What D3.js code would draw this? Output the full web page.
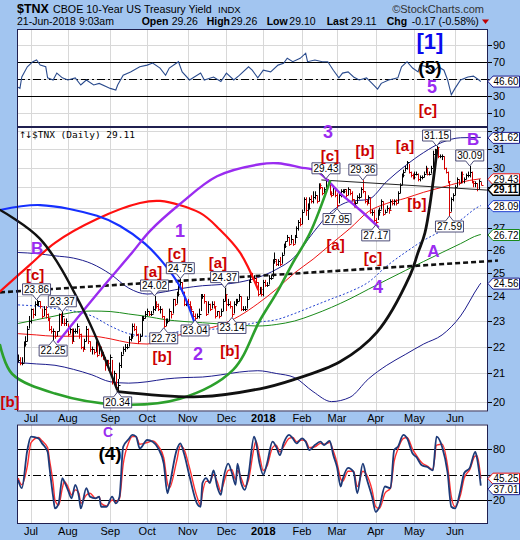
<!DOCTYPE html>
<html><head><meta charset="utf-8"><title>$TNX</title>
<script src="https://cdn.jsdelivr.net/npm/d3@7/dist/d3.min.js"></script>
<style>html,body{margin:0;padding:0;background:#a2c5f0;}svg{display:block;}</style>
</head><body>
<svg id="chart" width="520" height="540" xmlns="http://www.w3.org/2000/svg"></svg>
<script>
// ================= DATA =================
const holidays = ["2017-07-04","2017-09-04","2017-11-23","2017-12-25","2018-01-01","2018-01-15","2018-02-19","2018-03-30","2018-05-28"];
const firstDay = "2017-06-22", lastDay = "2018-06-21";

// daily closes (x10 yield), Jun 22 2017 .. Jun 21 2018
const closes = [
21.5,21.4,21.4,22.1,22.2,22.7,23.0,
23.5,23.3,23.7,23.8,23.8,23.6,23.2,23.5,23.3,23.1,22.7,22.6,22.6,22.4,22.6,23.3,22.9,23.2,22.9,23.0,
22.5,22.7,22.2,22.6,22.6,22.8,22.5,22.0,21.9,22.2,22.7,22.2,21.9,21.9,21.8,22.2,21.7,21.9,21.7,21.6,21.3,21.4,21.2,
21.6,20.7,21.0,20.5,20.6,21.3,21.7,21.9,22.0,22.0,22.3,22.4,22.8,22.7,22.5,22.2,22.4,23.1,23.1,23.3,
23.4,23.3,23.3,23.5,23.7,23.6,23.5,23.5,23.2,22.8,23.0,23.0,23.4,23.3,23.9,23.7,24.1,24.4,24.6,24.2,23.7,23.8,
23.7,23.5,23.4,23.2,23.1,23.2,23.3,24.0,24.0,23.8,23.3,23.7,23.5,23.7,23.6,23.2,23.4,23.2,23.4,23.8,24.1,
23.7,23.7,23.6,23.3,23.7,23.8,23.8,24.0,23.5,23.5,23.5,23.9,24.6,24.9,24.8,24.8,24.6,24.1,24.3,24.1,
24.6,24.5,24.5,24.8,24.8,25.5,25.6,25.4,25.5,25.4,25.8,26.2,26.4,26.6,26.3,26.5,26.3,26.6,27.0,27.3,27.2,
27.8,28.4,27.9,28.0,28.4,28.3,28.5,28.6,28.3,29.1,29.0,28.7,28.9,29.4,29.2,28.7,28.6,29.0,28.6,
28.1,28.6,28.8,28.8,28.9,28.6,28.9,28.7,28.4,28.1,28.2,28.5,28.5,28.9,28.8,28.3,28.2,28.5,27.8,27.8,27.4,
27.3,27.8,27.9,28.3,27.7,27.8,28.0,27.9,28.3,28.2,28.3,28.2,28.7,29.1,29.6,29.8,30.0,30.3,29.8,29.6,29.5,
29.7,29.7,29.4,29.5,29.5,29.7,30.0,29.7,29.7,30.0,30.7,30.9,31.1,30.6,30.6,30.6,30.0,29.8,29.3,27.8,28.4,28.6,
29.0,29.4,29.2,29.7,29.3,29.4,29.6,29.6,29.8,29.3,29.2,29.2,28.9,29.3,29.11];
const highs = [
21.7,21.6,21.6,22.2,22.4,22.8,23.2,
23.5,23.5,23.8,23.86,23.8,23.8,23.5,23.6,23.6,23.3,23.1,22.8,22.7,22.6,22.6,23.3,23.3,23.37,23.1,23.1,
22.9,22.8,22.7,22.7,22.7,22.9,22.7,22.5,22.0,22.3,22.8,22.7,22.2,22.0,21.9,22.2,22.2,22.0,22.0,21.8,21.6,21.5,21.5,
21.7,21.5,21.1,21.0,20.8,21.4,21.8,22.0,22.1,22.1,22.4,22.5,22.9,22.9,22.8,22.5,22.5,23.2,23.2,23.4,
23.5,23.4,23.4,23.6,24.02,23.8,23.7,23.6,23.5,23.2,23.1,23.1,23.5,23.4,23.9,23.9,24.2,24.5,24.75,24.6,24.2,23.9,
23.9,23.8,23.6,23.4,23.3,23.3,23.5,24.1,24.1,24.1,23.8,23.8,23.7,23.8,23.8,23.6,23.4,23.4,23.5,23.9,24.37,
24.1,23.9,23.8,23.6,23.8,23.9,23.9,24.1,24.0,23.6,23.6,24.0,24.7,25.0,25.0,24.9,24.8,24.6,24.4,24.4,
24.7,24.7,24.6,24.9,24.9,25.6,25.9,25.6,25.6,25.7,25.9,26.3,26.4,26.7,26.6,26.7,26.5,26.7,27.1,27.4,27.5,
27.9,28.5,28.5,28.2,28.5,28.6,28.8,28.8,28.6,29.2,29.2,29.0,29.0,29.43,29.4,29.2,28.8,29.1,29.0,
28.7,28.7,28.9,28.9,28.9,28.9,29.0,28.9,28.8,28.4,28.3,28.6,28.7,29.0,29.36,28.8,28.4,28.6,28.5,27.9,27.9,
27.5,27.9,28.0,28.4,28.3,27.9,28.1,28.0,28.4,28.4,28.4,28.4,28.8,29.2,29.7,29.9,30.1,30.35,30.2,29.8,29.7,
29.8,29.8,29.7,29.6,29.6,29.8,30.1,30.0,29.8,30.1,30.9,31.0,31.15,31.1,30.7,30.7,30.6,30.0,29.8,29.3,28.5,28.7,
29.1,29.5,29.4,29.8,29.8,29.5,29.7,29.8,30.09,29.8,29.3,29.3,29.2,29.4,29.26];
const lows = [
21.4,21.3,21.3,21.4,22.0,22.2,22.7,
22.9,23.1,23.2,23.6,23.6,23.5,23.1,23.2,23.1,23.0,22.6,22.5,22.25,22.3,22.4,22.6,22.8,22.9,22.8,22.8,
22.4,22.5,22.1,22.2,22.5,22.5,22.3,21.9,21.8,21.9,22.2,22.1,21.8,21.7,21.7,21.8,21.6,21.7,21.6,21.5,21.1,21.3,21.1,
21.1,20.6,20.6,20.4,20.34,20.8,21.2,21.7,21.8,21.9,22.0,22.2,22.3,22.6,22.4,22.1,22.2,22.4,23.0,23.1,
23.2,23.2,23.2,23.3,23.4,23.5,23.4,23.3,23.1,22.73,22.8,22.9,23.0,23.1,23.3,23.6,23.7,24.0,24.3,24.1,23.6,23.6,
23.6,23.4,23.3,23.1,23.04,23.1,23.1,23.4,23.9,23.7,23.2,23.3,23.4,23.5,23.5,23.1,23.2,23.1,23.2,23.4,23.8,
23.4,23.6,23.5,23.14,23.3,23.6,23.7,23.8,23.4,23.4,23.4,23.5,23.9,24.6,24.7,24.7,24.5,24.0,24.1,24.0,
24.0,24.4,24.4,24.5,24.7,24.8,25.4,25.3,25.3,25.3,25.4,25.8,26.1,26.4,26.2,26.3,26.2,26.3,26.6,26.9,27.1,
27.2,27.8,27.6,27.4,27.9,28.2,28.2,28.4,28.2,28.3,28.9,28.6,28.7,28.8,29.0,28.6,28.5,28.6,28.5,
27.95,28.2,28.5,28.7,28.7,28.5,28.6,28.6,28.3,28.0,28.0,28.2,28.4,28.5,28.7,28.2,28.1,28.2,27.7,27.6,27.3,
27.17,27.4,27.6,27.9,27.6,27.7,27.8,27.7,27.9,28.1,28.1,28.1,28.2,28.7,29.1,29.5,29.8,29.9,29.7,29.5,29.4,
29.4,29.6,29.3,29.3,29.4,29.5,29.7,29.6,29.6,29.7,30.0,30.6,30.8,30.5,30.5,30.4,29.9,29.7,29.2,27.59,27.8,28.3,
28.6,29.0,29.1,29.2,29.2,29.2,29.4,29.5,29.5,29.2,29.0,29.0,28.8,28.9,29.10];

// overlay lines, read at these trading-day numbers
const sampleDays = [0,10,20,30,40,50,60,70,80,90,100,110,120,130,140,150,160,170,180,190,200,210,220,230,240,250,251];
const ma50   = [22.5,22.45,22.4,22.4,22.4,22.3,22.15,22.1,22.3,22.5,22.65,22.85,23.2,23.7,24.3,25.0,25.6,26.3,27.0,27.8,28.2,28.45,28.75,29.0,29.25,29.42,29.43];
const ma200  = [22.9,23.05,23.2,23.35,23.4,23.38,23.28,23.18,23.05,22.98,22.93,22.88,22.84,22.8,22.86,23.0,23.25,23.55,23.9,24.3,24.7,25.1,25.5,25.9,26.3,26.7,26.72];
const bbMid  = [23.65,23.6,23.5,23.4,23.2,22.8,22.5,22.4,22.5,22.6,22.65,22.7,22.8,22.95,23.05,23.3,23.6,23.9,24.2,24.6,25.3,25.9,26.45,26.9,27.4,28.05,28.09];
const bbUp   = [25.9,25.85,25.75,25.65,25.4,24.95,24.35,24.1,24.2,24.35,24.45,24.5,24.6,24.8,25.15,25.7,26.8,27.8,28.3,28.4,29.3,30.1,30.8,31.35,31.6,31.62,31.62];
const bbLow  = [21.4,21.35,21.3,21.15,20.95,20.7,20.65,20.7,20.8,20.85,20.87,20.95,21.05,21.1,21.0,20.85,20.35,20.0,20.15,20.8,21.3,21.7,22.1,22.45,23.2,24.45,24.56];

// top RSI panel
const rsiDays = [0,1,2,5,8,10,12,15,16,19,21,24,27,31,34,37,41,44,50,53,54,57,61,66,70,73,77,80,82,87,89,93,99,101,106,110,113,117,120,125,127,130,133,137,141,144,146,149,153,156,157,161,165,168,171,174,176,179,182,185,189,192,195,197,201,206,208,211,214,217,218,222,225,228,231,233,235,237,240,244,247,250,251];
const rsiVals = [40,38.7,52,64,70,72,66,64,51,48.5,56.6,51,48.5,51,42.6,48.5,42.6,44.5,38.6,36.7,42.6,54,58,64,66,68.4,62.5,54,62.5,70,58,48.5,56.6,48.5,52,46.6,56.6,48.5,54,64,60,51,60,58,66,68,74,70,74,80,70,72,70,70,60,51,56.6,58,52,48.5,51,44.5,37.7,44.5,48.5,51,64,70,62.5,58,66,64,58,64,60,48.5,31,38.6,48.5,52,53,48.5,46.6];

// bottom panel (fast navy, slow red)
const stoDays = [0,2,5,7,11,13,16,17,19,20,22,24,25,27,29,31,33,34,37,39,42,44,45,48,51,53,55,57,60,62,64,66,70,73,76,79,81,82,86,88,90,93,97,99,100,102,104,106,108,110,111,114,116,118,119,121,123,125,128,129,131,133,135,138,140,142,144,147,149,151,154,156,158,161,164,166,169,171,173,175,176,179,182,184,187,189,192,194,196,199,202,204,206,209,211,214,216,219,222,225,227,230,233,235,237,240,242,245,248,249,251];
const stoFast = [43.7,34,79,95,93,87,77,59,24,10,16,46,42,32,22,38,24,10,34,24,22,24,12,12,24,16,24,83,92,97,95,81,91,89,81,63,28,36,79,87,75,48,16,12,40,46,40,55,36,26,40,63,52,38,63,40,32,50,95,89,63,50,63,89,83,73,87,97,93,87,93,89,79,85,89,85,90,73,59,36,44,58,53,28,63,46,24,6,12,36,34,79,83,97,93,75,71,61,59,55,95,83,52,12,10,32,52,58,77,69,37.01];
const stoSlow = [46,38,60,88,94,90,82,68,40,20,14,34,42,36,26,32,28,16,26,28,22,24,16,13,20,18,22,62,88,95,95,86,88,90,84,70,40,34,66,84,80,58,24,14,28,42,42,50,42,30,36,55,56,44,55,46,36,44,82,90,72,55,60,82,85,77,83,93,94,89,91,90,82,83,87,86,88,78,64,45,42,54,54,36,54,50,32,12,10,28,34,66,80,93,94,80,73,64,60,56,85,86,60,24,12,26,46,56,72,72,45.25];

// annotated highs/lows: [day, value, text, side]
const pivotLabels = [[10,23.86,"23.86","a"],[19,22.25,"22.25","b"],[24,23.37,"23.37","a"],[54,20.34,"20.34","b"],[74,24.02,"24.02","a"],[79,22.73,"22.73","b"],[88,24.75,"24.75","a"],[96,23.04,"23.04","b"],[112,24.37,"24.37","a"],[116,23.14,"23.14","b"],[167,29.43,"29.43","a"],[173,27.95,"27.95","b"],[187,29.36,"29.36","a"],[194,27.17,"27.17","b"],[227,31.15,"31.15","a"],[234,27.59,"27.59","b"],[245,30.09,"30.09","a"]];

// wave labels: [panel, day, value, text, kind]
const waveLabels = [
["main",10.3,26.07,"B","purpleL"],["main",9.2,24.93,"[c]","red"],["main",-4.4,20.0,"[b]","red"],
["main",73.2,25.08,"[a]","red"],["main",86.2,25.84,"[c]","red"],["main",108.4,25.47,"[a]","red"],
["main",78.1,21.61,"[b]","red"],["main",97.6,21.72,"2","purple"],["main",114.9,21.85,"[b]","red"],
["main",87.8,26.89,"1","purple"],["main",168.1,31.94,"3","purple"],["main",169.2,30.65,"[c]","red"],
["main",188.2,30.91,"[b]","red"],["main",209.9,31.18,"[a]","red"],["rsi",222.3,13.2,"[c]","red"],
["main",246.8,31.5,"B","purpleL"],["main",172.2,26.25,"[a]","red"],["main",216.3,28.22,"[b]","red"],
["main",192.5,25.67,"[c]","red"],["main",195.2,24.38,"4","purple"],["main",225.3,25.94,"A","purpleL"],
["rsi",223.4,93.2,"[1]","blue"],["rsi",223.4,62.6,"(5)","black"],["rsi",224.5,40.2,"5","purple"],
["low",48.8,100.5,"C","purpleS"],["low",49.9,75.6,"(4)","black"]];

// cycle arcs: [day, value] points
const arcBlue   = [[-9.8,27.88],[11.9,28.12],[42.8,27.6],[55.3,27.12],[68.8,26.3],[78.6,25.45],[87.8,24.42],[96,22.87]];
const arcRed    = [[-9.8,24.21],[6.5,25.36],[20,26.34],[42.8,27.45],[66.1,28.22],[77,28.32],[98.7,27.74],[109.5,26.94],[120.4,25.89],[130.2,24.29]];
const arcPurple = [[21.6,22.18],[44.4,24.25],[61.8,25.89],[71.6,26.89],[87.8,28.17],[107.9,29.56],[131.2,30.18],[141,30.23],[152.9,30.02],[162.1,29.82],[174.6,28.71],[185.5,27.88],[195.3,27.08]];
const arcGreen  = [[-9.8,22.06],[-3.3,20.99],[20,20.28],[53.7,19.9],[87.8,20.1],[116.6,21.13],[131.2,23.03],[140.4,24.17],[149.1,25.45],[158.4,26.8],[169.2,29.31]];
const arcBlackL = [[-9.8,27.88],[11.9,26.52],[35.2,23.47],[53.7,20.42]];
const arcBlackR = [[54.2,20.35],[98.7,20.17],[131.2,20.45],[149.1,20.77],[174.6,21.43],[194.7,22.56],[212.6,24.89],[216.9,25.89],[220.7,26.8],[227.2,30.91]];
const dashedTrend = [[-9.8,24.17],[260.3,25.54]];
const thinTrend   = [[164.5,29.37],[254.3,28.86]];

// right-edge value tags: [panel, value, text, kind]
const valueTags = [["rsi",46.60,"46.60","navy"],["main",31.62,"31.62","navy"],["main",29.43,"29.43","red"],["main",29.11,"29.11","black"],["main",28.09,"28.09","blue"],["main",26.72,"26.72","green"],["main",24.56,"24.56","navy"],["low",45.25,"45.25","red"],["low",37.01,"37.01","navy"]];

const mainTicks = [20,21,22,23,24,25,26,27,28,29,30,31,32];
const rsiTicks = [10,30,50,70,90];
const lowTicks = [20,50,80];

// ================= DRAW =================
const svg = d3.select("#chart");
const FONT = 'Arial, "Liberation Sans", sans-serif';
const BG = "#a2c5f0";
const L = 17, R = 488;
const panels = {rsi:[29,127], main:[127,411.5], low:[424.5,524]};

const fmt = d3.timeFormat("%Y-%m-%d");
const days = [];
for (let d = new Date(2017,5,22); d <= new Date(2018,5,21); d = new Date(d.getFullYear(), d.getMonth(), d.getDate()+1)) {
  const wd = d.getDay(); if (wd === 0 || wd === 6) continue;
  if (holidays.includes(fmt(d))) continue;
  days.push(d);
}
const monthTicks = [];
days.forEach((d,i) => { if (i > 0 && d.getMonth() !== days[i-1].getMonth()) monthTicks.push(i); });

const x  = d3.scaleLinear().domain([-0.6, 254.9]).range([L, R]);
const yM = d3.scaleLog().domain([20, 32]).range([401.6, 130.5]);
const yR = d3.scaleLinear().domain([30, 70]).range([95.7, 61.7]);
const yB = d3.scaleLinear().domain([20, 80]).range([500, 449.3]);
const yOf = {main:yM, rsi:yR, low:yB};

svg.append("rect").attr("width",520).attr("height",540).attr("fill",BG);
const defs = svg.append("defs");
for (const k in panels) {
  const [t,b] = panels[k];
  svg.append("rect").attr("x",L).attr("y",t).attr("width",R-L).attr("height",b-t).attr("fill","#fff");
  defs.append("clipPath").attr("id","clip-"+k).append("rect").attr("x",L).attr("y",t).attr("width",R-L).attr("height",b-t);
}

// grid
const grid = svg.append("g").attr("stroke","#d8d8d8").attr("stroke-width",1);
for (const k in panels) {
  const [t,b] = panels[k];
  monthTicks.forEach(i => { const xx = Math.round(x(i))+0.5;
    grid.append("line").attr("x1",xx).attr("x2",xx).attr("y1",t).attr("y2",b); });
}
const hgrid = (ticks, sc) => ticks.forEach(v => { const yy = Math.round(sc(v))+0.5;
  grid.append("line").attr("x1",L).attr("x2",R).attr("y1",yy).attr("y2",yy); });
hgrid(mainTicks, yM); hgrid(rsiTicks, yR);

// reference lines
function refLines(sc, solid, dash, panel) {
  const g = svg.append("g").attr("clip-path","url(#clip-"+panel+")");
  solid.forEach(v => { const yy = Math.round(sc(v))+0.5;
    g.append("line").attr("x1",L).attr("x2",R).attr("y1",yy).attr("y2",yy).attr("stroke","#000").attr("stroke-width",1); });
  const yy = Math.round(sc(dash))+0.5;
  g.append("line").attr("x1",L).attr("x2",R).attr("y1",yy).attr("y2",yy).attr("stroke","#000").attr("stroke-width",1).attr("stroke-dasharray","8,3,2,3");
}
refLines(yR, [30,70], 50, "rsi");
refLines(yB, [20,80], 50, "low");

// RSI line
svg.append("g").attr("clip-path","url(#clip-rsi)").append("path")
  .attr("d", d3.line().x((d,i)=>x(rsiDays[i])).y(v=>yR(v))(rsiVals))
  .attr("fill","none").attr("stroke","#2a4b8d").attr("stroke-width",1.1);

// bottom panel lines
const gLow = svg.append("g").attr("clip-path","url(#clip-low)");
gLow.append("path").attr("d", d3.line().x((d,i)=>x(stoDays[i])).y(v=>yB(v)).curve(d3.curveMonotoneX)(stoSlow))
  .attr("fill","none").attr("stroke","#ff3030").attr("stroke-width",1.4);
gLow.append("path").attr("d", d3.line().x((d,i)=>x(stoDays[i])).y(v=>yB(v)).curve(d3.curveMonotoneX)(stoFast))
  .attr("fill","none").attr("stroke","#1d3a78").attr("stroke-width",1.8);

// main overlays
const gMain = svg.append("g").attr("clip-path","url(#clip-main)");
const ov = d3.line().x((d,i)=>x(sampleDays[i])).y(v=>yM(v)).curve(d3.curveMonotoneX);
gMain.append("path").attr("d",ov(bbUp)).attr("fill","none").attr("stroke","#1c1c8c").attr("stroke-width",1);
gMain.append("path").attr("d",ov(bbLow)).attr("fill","none").attr("stroke","#1c1c8c").attr("stroke-width",1);
gMain.append("path").attr("d",ov(bbMid)).attr("fill","none").attr("stroke","#2040d0").attr("stroke-width",1).attr("stroke-dasharray","2,2");
gMain.append("path").attr("d",ov(ma200)).attr("fill","none").attr("stroke","#1a8a1a").attr("stroke-width",1);
gMain.append("path").attr("d",ov(ma50)).attr("fill","none").attr("stroke","#ee1111").attr("stroke-width",1);

// price bars
const gBars = gMain.append("g");
closes.forEach((c,i) => {
  const col = (i === 0 || c >= closes[i-1]) ? "#000" : "#d40000";
  const xx = Math.round(x(i)) + 0.5;
  gBars.append("line").attr("x1",xx).attr("x2",xx).attr("y1",yM(highs[i])).attr("y2",yM(lows[i])).attr("stroke",col).attr("stroke-width",1);
  const yc = Math.round(yM(c)) + 0.5;
  gBars.append("line").attr("x1",xx).attr("x2",xx+2).attr("y1",yc).attr("y2",yc).attr("stroke",col).attr("stroke-width",1);
});

// trend lines
const straight = d3.line().x(p=>x(p[0])).y(p=>yM(p[1]));
gMain.append("path").attr("d",straight(thinTrend)).attr("stroke","#222").attr("stroke-width",1).attr("fill","none");
svg.append("path").attr("d",straight(dashedTrend)).attr("stroke","#111").attr("stroke-width",2.6).attr("stroke-dasharray","5,3").attr("fill","none");

// arcs
const arcLine = d3.line().x(p=>x(p[0])).y(p=>yM(p[1])).curve(d3.curveCatmullRom.alpha(0.5));
const gArcs = svg.append("g").attr("fill","none").attr("stroke-linecap","round");
gArcs.append("path").attr("d",arcLine(arcRed)).attr("stroke","#ff1010").attr("stroke-width",2.2);
gArcs.append("path").attr("d",arcLine(arcBlue)).attr("stroke","#1530ff").attr("stroke-width",2.2);
gArcs.append("path").attr("d",arcLine(arcPurple)).attr("stroke","#9a2cf0").attr("stroke-width",2.4);
gArcs.append("path").attr("d",arcLine(arcGreen)).attr("stroke","#2ca02c").attr("stroke-width",2.6);
gArcs.append("path").attr("d",arcLine(arcBlackL)).attr("stroke","#111").attr("stroke-width",2.4);
gArcs.append("path").attr("d",arcLine(arcBlackR)).attr("stroke","#111").attr("stroke-width",2.8);

// pivot value boxes
const gPiv = svg.append("g");
pivotLabels.forEach(([d,v,t,side]) => {
  const bx = x(d), by = yM(v), w = 28, h = 11, gap = 5;
  const xl = bx - w/2, xr = bx + w/2;
  let yt, yb, p;
  if (side === "a") { yb = by - gap; yt = yb - h;
    p = `M${xl},${yt}H${xr}V${yb}H${bx+4}L${bx},${by}L${bx-4},${yb}H${xl}Z`; }
  else { yt = by + gap; yb = yt + h;
    p = `M${xl},${yb}H${xr}V${yt}H${bx+4}L${bx},${by}L${bx-4},${yt}H${xl}Z`; }
  gPiv.append("path").attr("d",p).attr("fill","#fff").attr("stroke","#3a3a6a").attr("stroke-width",0.9);
  gPiv.append("text").attr("x",bx).attr("y",yt+9).attr("text-anchor","middle")
    .attr("font-family",FONT).attr("font-size",10).attr("fill","#000").text(t);
});

// panel borders
for (const k in panels) {
  const [t,b] = panels[k];
  svg.append("rect").attr("x",L+0.5).attr("y",t+0.5).attr("width",R-L-1).attr("height",b-t-1)
    .attr("fill","none").attr("stroke","#202050").attr("stroke-width",1);
}

// wave labels
const kinds = {
  red:{fill:"#cc0000",size:15}, purple:{fill:"#9a2cf0",size:18}, purpleL:{fill:"#9a2cf0",size:17},
  purpleS:{fill:"#9a2cf0",size:14}, blue:{fill:"#0a0aee",size:22}, black:{fill:"#000",size:19}};
waveLabels.forEach(([pn,d,v,t,k]) => {
  svg.append("text").attr("x",x(d)).attr("y",yOf[pn](v)).attr("text-anchor","middle").attr("dominant-baseline","central")
    .attr("font-family",FONT).attr("font-weight","bold").attr("font-size",kinds[k].size).attr("fill",kinds[k].fill).text(t);
});

// value tag positions (pushed apart when crowded)
valueTags.forEach(tg => { tg.y = yOf[tg[0]](tg[1]) + (tg[0]==="main" ? 0.5 : 0); });
["rsi","main","low"].forEach(pn => {
  const arr = valueTags.filter(t=>t[0]===pn).sort((a,b)=>a.y-b.y);
  for (let i=1;i<arr.length;i++) if (arr[i].y - arr[i-1].y < 10.5) arr[i].y = arr[i-1].y + 10.5;
});

// right axis ticks (labels hidden under a tag are not drawn, as in the original)
function rightTicks(ticks, sc, pn) {
  const tagYs = valueTags.filter(t=>t[0]===pn).map(t=>t.y);
  ticks.forEach(v => {
    const yy = sc(v);
    svg.append("line").attr("x1",R).attr("x2",R+4).attr("y1",Math.round(yy)+0.5).attr("y2",Math.round(yy)+0.5).attr("stroke","#000");
    if (tagYs.some(ty => Math.abs(ty-yy) < 5)) return;
    svg.append("text").attr("x",R+5).attr("y",yy+4).attr("font-family",FONT).attr("font-size",11).attr("fill","#000").text(v);
  });
}
rightTicks(mainTicks, yM, "main"); rightTicks(rsiTicks, yR, "rsi"); rightTicks(lowTicks, yB, "low");

// value tags
const tagCol = {navy:"#1c1c8c", red:"#ee1111", black:"#000", blue:"#2040d0", green:"#1a8a1a"};
valueTags.forEach(tg => {
  const y = tg.y, k = tg[3];
  const p = `M${R},${y}L${R+5},${y-5.5}H${R+31.5}V${y+5.5}H${R+5}Z`;
  svg.append("path").attr("d",p).attr("fill","#fff").attr("stroke",tagCol[k]).attr("stroke-width",k==="black"?1.4:1);
  svg.append("text").attr("x",R+5.5).attr("y",y+3.6).attr("font-family",FONT).attr("font-size",10)
    .attr("font-weight",k==="black"?"bold":"normal").attr("fill","#000").text(tg[2]);
});

// x axis labels
function xLabels(yBase) {
  monthTicks.forEach(i => {
    const d = days[i], jan = d.getMonth() === 0;
    svg.append("text").attr("x",x(i)).attr("y",yBase).attr("text-anchor","middle")
      .attr("font-family",FONT).attr("font-size",11).attr("font-weight",jan?"bold":"normal").attr("fill","#000")
      .text(jan ? d3.timeFormat("%Y")(d) : d3.timeFormat("%b")(d));
  });
}
xLabels(422); xLabels(535);

// panel title
svg.append("text").attr("x",19).attr("y",137.5).attr("font-family",'"DejaVu Sans", sans-serif').attr("font-size",9).attr("letter-spacing",-1.5).text("↑↓");
svg.append("text").attr("x",32).attr("y",137.5).attr("font-family",'"DejaVu Sans Mono", monospace').attr("font-size",9.5).attr("fill","#000").text("$TNX (Daily) 29.11");

// header
const hdr = svg.append("g").attr("font-family",FONT).attr("fill","#000");
hdr.append("text").attr("x",17).attr("y",13).attr("font-size",12.5).attr("font-weight","bold").text("$TNX");
hdr.append("text").attr("x",53).attr("y",13).attr("font-size",10.7).text("CBOE 10-Year US Treasury Yield");
hdr.append("text").attr("x",218).attr("y",13).attr("font-size",9.5).text("INDX");
hdr.append("text").attr("x",484).attr("y",13).attr("text-anchor","end").attr("font-size",11).attr("fill","#333").text("©StockCharts.com");
hdr.append("text").attr("x",17).attr("y",25).attr("font-size",10.5).text("21-Jun-2018 9:03am");
const stats = [["Open",141.7,"29.26",171.7],["High",206.7,"29.26",231],["Low",266.7,"29.10",289.3],["Last",326.7,"29.11",351],["Chg",386.7,"-0.17 (-0.58%)",411.7]];
stats.forEach(([k,kx,v,vx]) => {
  hdr.append("text").attr("x",kx).attr("y",25).attr("font-size",10.5).attr("font-weight","bold").text(k);
  hdr.append("text").attr("x",vx).attr("y",25).attr("font-size",10.5).text(v);
});
svg.append("path").attr("d","M482,19.5H489L485.5,24Z").attr("fill","#c00000");
</script>
</body></html>
